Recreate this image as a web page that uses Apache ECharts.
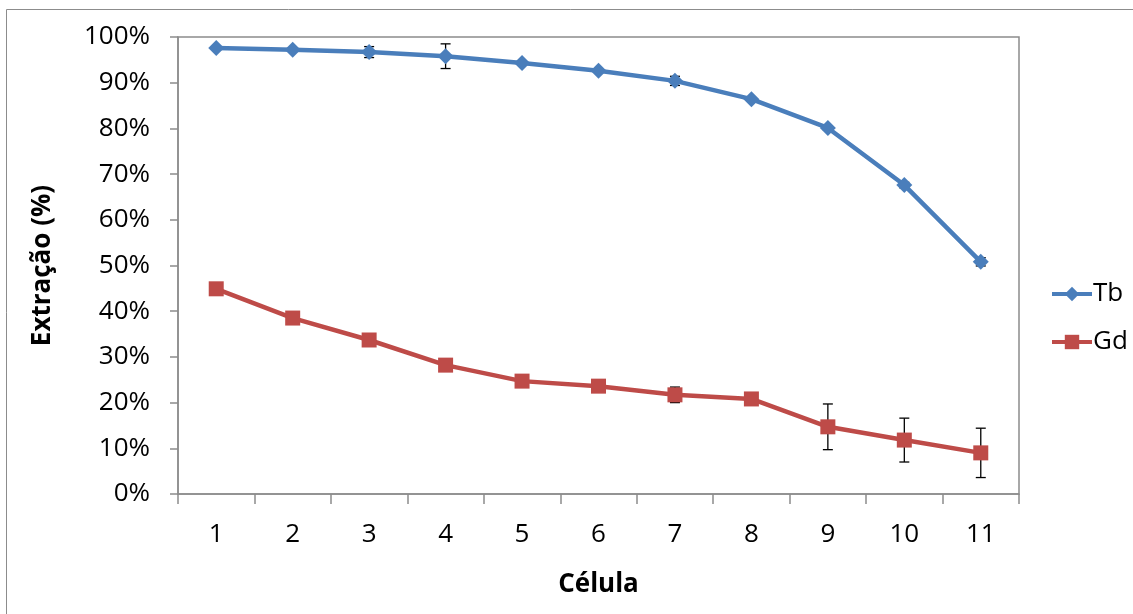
<!DOCTYPE html>
<html><head><meta charset="utf-8">
<script src="https://cdn.jsdelivr.net/npm/echarts@6/dist/echarts.min.js"></script>
<style>html,body{margin:0;padding:0;background:#fff}#c{width:1133px;height:614px}</style>
</head><body><div id="c"></div>
<script>
const categories = ['1','2','3','4','5','6','7','8','9','10','11'];
const tbValues = [97.6, 97.2, 96.7, 95.8, 94.3, 92.6, 90.4, 86.4, 80.1, 67.6, 50.8];
const tbErrors = [0, 0, 1.2, 2.7, 0, 0, 1.0, 0, 0.5, 0.6, 0.9];
const gdValues = [44.9, 38.5, 33.7, 28.2, 24.7, 23.6, 21.7, 20.8, 14.7, 11.8, 9.0];
const gdErrors = [0, 0, 0, 1.2, 0, 0.8, 1.7, 0, 5.0, 4.8, 5.4];
const yTicks = [0,10,20,30,40,50,60,70,80,90,100];

const FONT = 'Open Sans';
const BLUE = '#4A7EBB', RED = '#BE4B48';

function errData(vals, errs){
  return vals.map((v,i)=>[i, v-errs[i], v+errs[i], errs[i]]);
}
function errRender(params, api){
  if (api.value(3) === 0) return null;
  const lo = api.coord([api.value(0), api.value(1)]);
  const hi = api.coord([api.value(0), api.value(2)]);
  const w = 5;
  const st = {stroke:'#000', lineWidth:1.3};
  return {type:'group', children:[
    {type:'line', shape:{x1:lo[0],y1:lo[1],x2:hi[0],y2:hi[1]}, style:st},
    {type:'line', shape:{x1:lo[0]-w,y1:lo[1],x2:lo[0]+w,y2:lo[1]}, style:st},
    {type:'line', shape:{x1:hi[0]-w,y1:hi[1],x2:hi[0]+w,y2:hi[1]}, style:st}
  ]};
}

const chart = echarts.init(document.getElementById('c'), null, {renderer:'canvas'});
chart.setOption({
  animation:false,
  backgroundColor:'#fff',
  graphic:[{type:'rect', shape:{x:6.5,y:9.5,width:1200,height:700}, style:{fill:'none', stroke:'#8c8c8c', lineWidth:1}, z:-1}],
  grid:{left:178, top:37, right:114, bottom:120, show:true, borderColor:'#8c8c8c', borderWidth:1.5, backgroundColor:'transparent'},
  legend:{
    orient:'vertical', left:1045, top:276, itemGap:22, itemWidth:40, itemHeight:18,
    lineStyle:{width:4},
    textStyle:{fontFamily:FONT, fontSize:26, color:'#000', padding:[0,0,0,-4]},
    data:['Tb','Gd']
  },
  xAxis:{
    type:'category', data:categories, boundaryGap:true,
    name:'Célula', nameLocation:'middle', nameGap:78,
    nameTextStyle:{fontFamily:FONT, fontSize:26, fontWeight:'bold', color:'#000'},
    axisLine:{lineStyle:{color:'#8c8c8c', width:1.5}},
    axisTick:{show:true, length:10, inside:false, lineStyle:{color:'#8c8c8c', width:1.5}},
    axisLabel:{fontFamily:FONT, fontSize:26, color:'#000', margin:28},
    splitLine:{show:false}
  },
  yAxis:{
    type:'value', min:0, max:100, interval:10,
    name:'Extração (%)', nameLocation:'middle', nameGap:122, nameRotate:90,
    nameTextStyle:{fontFamily:FONT, fontSize:26, fontWeight:'bold', color:'#000'},
    axisLine:{show:true, lineStyle:{color:'#8c8c8c', width:1.5}},
    axisTick:{show:true, length:8, lineStyle:{color:'#8c8c8c', width:1.5}},
    axisLabel:{fontFamily:FONT, fontSize:26, color:'#000', margin:28,
      formatter:(v)=> yTicks.includes(v) ? v+'%' : ''},
    splitLine:{show:false}
  },
  series:[
    {name:'TbErr', type:'custom', data:errData(tbValues,tbErrors), renderItem:errRender,
     encode:{x:0, y:[1,2]}, z:2, silent:true},
    {name:'GdErr', type:'custom', data:errData(gdValues,gdErrors), renderItem:errRender,
     encode:{x:0, y:[1,2]}, z:2, silent:true},
    {name:'Tb', type:'line', data:tbValues, symbol:'diamond', symbolSize:16,
     lineStyle:{color:BLUE, width:4.5}, itemStyle:{color:BLUE}, z:3},
    {name:'Gd', type:'line', data:gdValues, symbol:'rect', symbolSize:15,
     lineStyle:{color:RED, width:4.5}, itemStyle:{color:RED}, z:3}
  ]
});
</script></body></html>
